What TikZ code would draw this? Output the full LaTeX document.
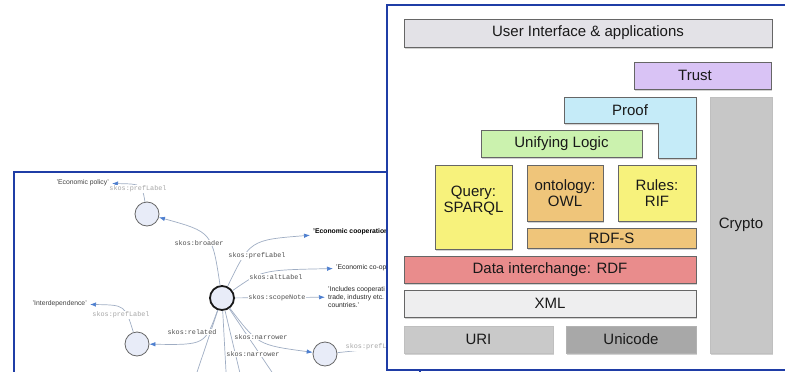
\documentclass[tikz,border=0pt]{standalone}
\usepackage{fontspec}
\setmainfont{Liberation Sans}
\setmonofont{Liberation Mono}
\usepackage{tikz}
\usetikzlibrary{arrows.meta,shadows}
\definecolor{frameblue}{HTML}{1F3DA6}
\definecolor{edgegray}{HTML}{9FADC3}
\definecolor{tipblue}{HTML}{4E7FCF}
\definecolor{conceptfill}{HTML}{E8ECF8}
\definecolor{uifill}{HTML}{E3E2E7}
\definecolor{trustfill}{HTML}{D9C3F5}
\definecolor{prooffill}{HTML}{C5EBF8}
\definecolor{logicfill}{HTML}{CBF2AE}
\definecolor{yellowfill}{HTML}{F7F27C}
\definecolor{orangefill}{HTML}{EFC57A}
\definecolor{rdffill}{HTML}{E98C8C}
\definecolor{xmlfill}{HTML}{EEEEEF}
\definecolor{urifill}{HTML}{C9C9C9}
\definecolor{unicodefill}{HTML}{A8A8A8}
\definecolor{cryptofill}{HTML}{C7C7C7}
\tikzstyle{frame_line} = [draw=frameblue, line width=2pt]
\tikzstyle{node_concept} = [circle, draw=black!60, fill=conceptfill, line width=0.8pt, inner sep=0pt, minimum size=24pt]
\tikzstyle{node_main} = [node_concept, draw=black!90, line width=1.8pt]
\tikzstyle{edge_open} = [draw=edgegray, line width=0.7pt]
\tikzstyle{edge_skos} = [edge_open, -{Latex[length=6pt,width=4.5pt,color=tipblue]}]
\tikzstyle{label_skos} = [font=\fontsize{6.8}{7}\ttfamily, text=black!70, fill=white, inner sep=0.5pt]
\tikzstyle{label_pref} = [label_skos, text=black!35]
\tikzstyle{text_literal} = [font=\fontsize{6.8}{8}\selectfont, text=black!75, inner sep=3pt]
\tikzstyle{layer_shape} = [draw=black!60, line width=0.8pt, drop shadow={shadow xshift=1.2pt, shadow yshift=-2.2pt, opacity=0.35}]
\tikzstyle{layer_text} = [font=\fontsize{15}{15.5}\selectfont, text=black!90, align=center]
\tikzstyle{layer} = [layer_shape, layer_text, inner sep=1pt]
\begin{document}
\begin{tikzpicture}[x=1pt, y=-1pt]
\useasboundingbox (0,0) rectangle (785,372);
\clip (0,0) rectangle (785,372);

\draw[frame_line] (14,172) rectangle (420,400);

\node (c0) at (222,298) [node_main] {};
\node (broader) at (147,214) [node_concept] {};
\node (related) at (137,344) [node_concept] {};
\node (narrower) at (325,354) [node_concept] {};

\node (epolicy) at (112,183) [text_literal, anchor=east] {'Economic policy'};
\node (einter) at (90,304) [text_literal, anchor=east] {'Interdependence'};
\node (ecoop) at (310,232) [text_literal, anchor=west, text=black, font=\fontsize{6.8}{8}\selectfont\bfseries] {'Economic cooperation};
\node (ecoop2) at (333,268) [text_literal, anchor=west, text=black!85] {'Economic co-op};
\node (enote) at (325,297) [text_literal, anchor=west, align=left, text=black!85] {'Includes cooperati\\trade, industry etc.\\countries.'};
\coordinate (d1) at (191,390);
\coordinate (d2) at (227,390);
\coordinate (d3) at (244,390);
\coordinate (d4) at (284,390);
\coordinate (nlit) at (400,346);

\draw[edge_skos] (c0) .. controls (212,232) .. (broader);
\draw[edge_skos] (c0) .. controls (250,240) .. (ecoop);
\draw[edge_skos] (c0) .. controls (262,270) .. (ecoop2);
\draw[edge_skos] (c0) -- (enote);
\draw[edge_skos] (c0) .. controls (205,345) .. (related);
\draw[edge_skos] (c0) .. controls (258,345) .. (narrower);
\draw[edge_open] (c0) -- (d1) (c0) -- (d2) (c0) -- (d3) (c0) -- (d4);
\draw[edge_skos] (broader) .. controls (142,184) .. (epolicy);
\draw[edge_skos] (related) .. controls (125,305) .. (einter);
\draw[edge_open] (narrower) -- (nlit);

\node (lbroader) at (199,243) [label_skos] {skos:broader};
\node (lpref) at (257,256) [label_skos] {skos:prefLabel};
\node (lalt) at (276,277) [label_skos] {skos:altLabel};
\node (lscope) at (277,298) [label_skos] {skos:scopeNote};
\node (lrelated) at (192,332) [label_skos] {skos:related};
\node (lnarrow1) at (261,337) [label_skos] {skos:narrower};
\node (lnarrow2) at (253,354) [label_skos] {skos:narrower};
\node (lprefb) at (138,189) [label_pref] {skos:prefLabel};
\node (lprefr) at (121,315) [label_pref] {skos:prefLabel};
\node (lprefn) at (345,347) [label_pref, anchor=west] {skos:prefL};

\draw[frame_line, fill=white] (387,5) rectangle (800,370);

\node (ui) at (588,33) [layer, fill=uifill, minimum width=368pt, minimum height=28pt] {User Interface \& applications};
\node (trust) at (702.5,75.5) [layer, fill=trustfill, minimum width=137pt, minimum height=27pt] {};
\node (trusttext) at (695,75.5) [layer_text] {Trust};
\path[layer_shape, fill=prooffill] (564,97) -- (696,97) -- (696,158) -- (658,158) -- (658,123) -- (564,123) -- cycle;
\node (proof) at (630,110) [layer_text] {Proof};
\node (crypto) at (741,225) [layer, fill=cryptofill, draw=black!25, minimum width=62pt, minimum height=256pt] {Crypto};
\node (logic) at (561.5,143.5) [layer, fill=logicfill, minimum width=161pt, minimum height=27pt] {Unifying Logic};
\node (query) at (473.5,207) [layer, fill=yellowfill, minimum width=77pt, minimum height=84pt] {};
\node (querytext) at (473.5,200.5) [layer_text] {Query:\\SPARQL};
\node (owl) at (565,193) [layer, fill=orangefill, minimum width=76pt, minimum height=56pt] {ontology:\\OWL};
\node (rif) at (657,193) [layer, fill=yellowfill, minimum width=78pt, minimum height=56pt] {Rules:\\RIF};
\node (rdfs) at (611.5,238) [layer, fill=orangefill, minimum width=169pt, minimum height=20pt] {RDF-S};
\node (rdf) at (550,269.5) [layer, fill=rdffill, minimum width=292pt, minimum height=27pt] {Data interchange: RDF};
\node (xml) at (550,303.5) [layer, fill=xmlfill, minimum width=292pt, minimum height=27pt] {XML};
\node (uri) at (478.5,339.5) [layer, fill=urifill, draw=black!25, minimum width=149pt, minimum height=27pt] {URI};
\node (unicode) at (631,339.5) [layer, fill=unicodefill, draw=black!30, minimum width=130pt, minimum height=27pt] {Unicode};
\end{tikzpicture}
\end{document}
